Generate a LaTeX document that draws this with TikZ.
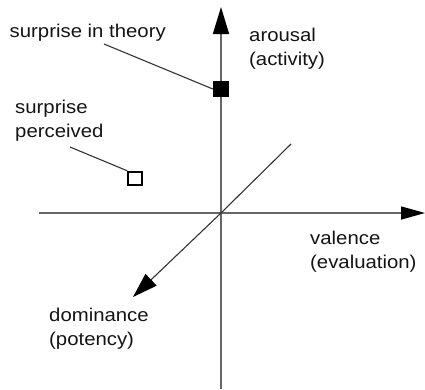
\documentclass[tikz,border=0pt]{standalone}
\usepackage{fontspec}
\setmainfont{Liberation Sans}[FakeStretch=1.1]
\usetikzlibrary{arrows.meta}
\begin{document}
\begin{tikzpicture}[x=1pt,y=-1pt,
  axis/.style={draw=black!60, line width=1.5pt},
  diag/.style={draw=black!80, line width=1.1pt},
  lead/.style={draw=black!80, line width=1.1pt},
  lab/.style={anchor=base west, inner sep=0pt, align=left, text=black!92,
    font=\fontsize{18.5}{24}\selectfont},
  bigtip/.style={-{Triangle[length=27pt,width=16pt,color=black]}},
  midtip/.style={-{Triangle[length=24pt,width=13pt,color=black]}},
  dtip/.style={-{Triangle[length=25pt,width=16pt,color=black]}}]
\useasboundingbox (0,0) rectangle (425,389);
% axis end points
\coordinate (O) at (221,213);
\coordinate (top) at (221,7);
\coordinate (bot) at (221,389);
\coordinate (left) at (39,213);
\coordinate (right) at (425,213);
\coordinate (dup) at (291,144);
\coordinate (ddown) at (133,297);
% axes
\draw[axis, bigtip] (bot) -- (top);
\draw[axis, midtip] (left) -- (right);
\draw[diag] (dup) -- (O);
\draw[diag, dtip] (O) -- (ddown);
% points
\node (fs) [draw=black, fill=black, minimum width=15pt, minimum height=15pt, inner sep=0pt] at (220.5,89) {};
\node (os) [draw=black, fill=white, line width=2pt, minimum width=14pt, minimum height=13pt, inner sep=0pt] at (135.3,178.3) {};
\coordinate (l1) at (104,44);
\coordinate (l2) at (70,147);
\draw[lead] (l1) -- (fs.west);
\draw[lead] (l2) -- (os.north west);
% labels (multi-line nodes: base anchor is on the last line)
\node[lab] (t1) at (9.5,37.5) {surprise in theory};
\node[lab] (t2) at (249,65.5) {arousal\\(activity)};
\node[lab] (t3) at (15,137.5) {surprise\\perceived};
\node[lab] (t4) at (310,268) {valence\\(evaluation)};
\node[lab] (t5) at (49,345.5) {dominance\\(potency)};
\end{tikzpicture}
\end{document}
